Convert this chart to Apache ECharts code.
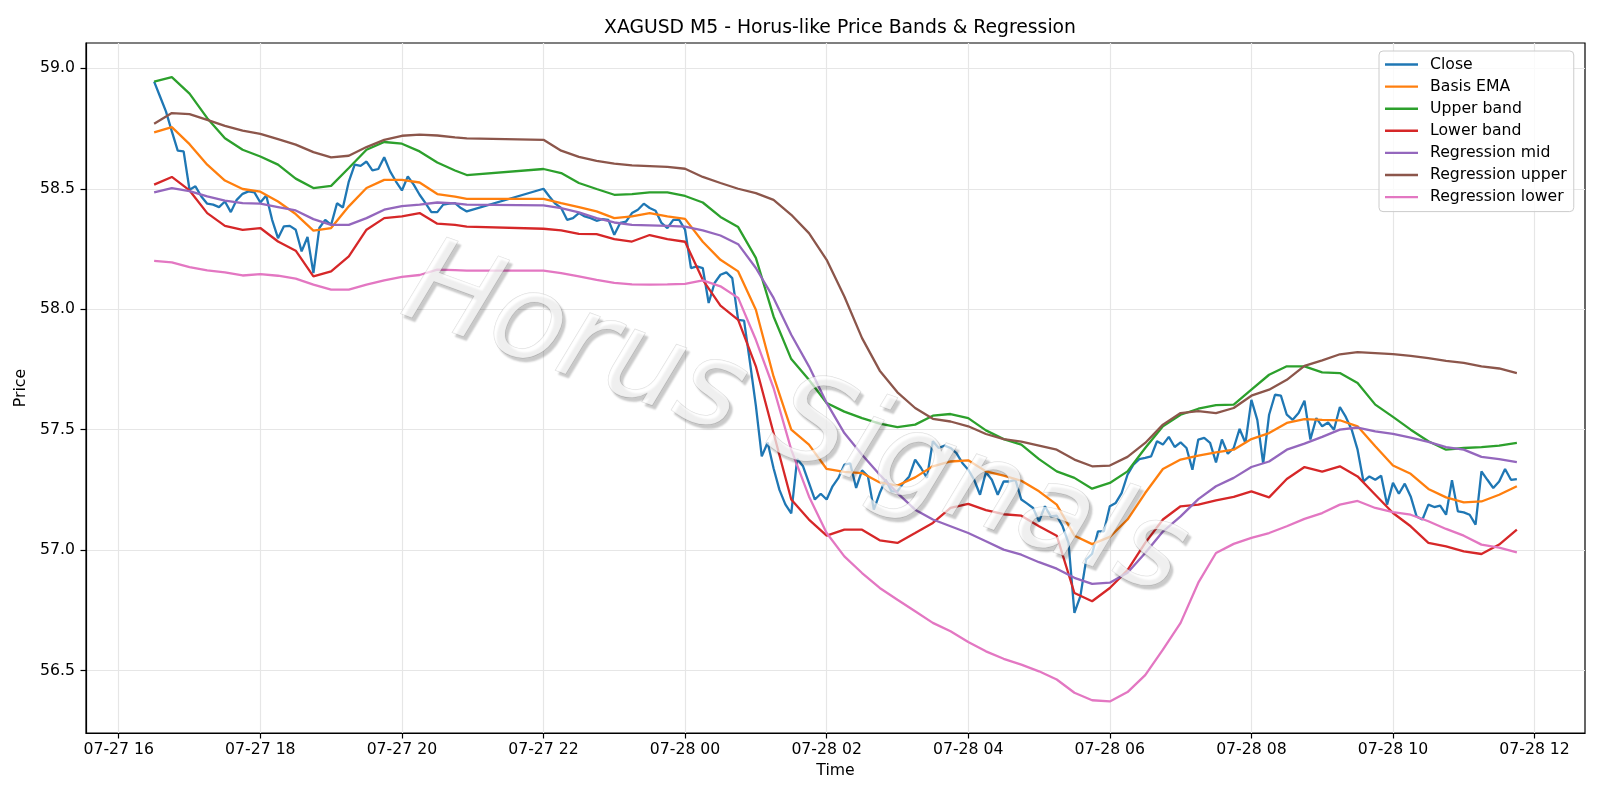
<!DOCTYPE html>
<html>
<head>
<meta charset="utf-8">
<title>XAGUSD M5 - Horus-like Price Bands & Regression</title>
<script src="https://cdn.jsdelivr.net/npm/echarts@6/dist/echarts.min.js"></script>
<style>
  html, body { margin: 0; padding: 0; background: #fff; }
  #chart { width: 1600px; height: 800px; }
</style>
</head>
<body>
<div id="chart"></div>
<script>
// M5 bars: 07-27 16:30 .. 20:55, break, then 07-27 22:00 .. 07-28 11:45
const MIN5 = 5 * 60 * 1000;
const sessions = [
  { start: Date.UTC(2025, 6, 27, 16, 30), bars: 54 },
  { start: Date.UTC(2025, 6, 27, 22, 0), bars: 166 },
];

const close = [
  58.945, 58.883, 58.821, 58.738, 58.658, 58.655, 58.496, 58.51, 58.468, 58.438, 58.434, 58.424,
  58.447, 58.403, 58.454, 58.479, 58.489, 58.485, 58.443, 58.472, 58.371, 58.295, 58.344, 58.346,
  58.33, 58.24, 58.3, 58.15, 58.337, 58.371, 58.35, 58.44, 58.422, 58.53, 58.6, 58.595,
  58.613, 58.576, 58.582, 58.631, 58.572, 58.53, 58.493, 58.551, 58.517, 58.475, 58.44, 58.403,
  58.403, 58.434, 58.438, 58.44, 58.42, 58.406,
  // 22:00
  58.5, 58.468, 58.438, 58.42, 58.371, 58.378, 58.399, 58.385, 58.378, 58.367, 58.374, 58.371,
  58.309, 58.358, 58.364, 58.399, 58.413, 58.438, 58.42, 58.409, 58.358, 58.337, 58.371, 58.371,
  // 00:00
  58.33, 58.171, 58.178, 58.171, 58.026, 58.109, 58.143, 58.153, 58.129, 57.956, 57.953, 57.78,
  57.6, 57.389, 57.447, 57.34, 57.25, 57.19, 57.153, 57.378, 57.348, 57.279, 57.21, 57.234,
  // 02:00
  57.21, 57.265, 57.3, 57.355, 57.36, 57.258, 57.331, 57.306, 57.168, 57.237, 57.292, 57.244,
  57.244, 57.279, 57.306, 57.376, 57.341, 57.3, 57.452, 57.424, 57.434, 57.424, 57.403, 57.362,
  // 04:00
  57.334, 57.292, 57.23, 57.323, 57.292, 57.23, 57.285, 57.285, 57.292, 57.21, 57.193, 57.175,
  57.12, 57.182, 57.14, 57.143, 57.099, 57.03, 56.74, 56.808, 56.961, 56.985, 57.078, 57.078,
  // 06:00
  57.182, 57.196, 57.237, 57.313, 57.355, 57.378, 57.383, 57.389, 57.452, 57.438, 57.47, 57.428,
  57.447, 57.424, 57.334, 57.459, 57.466, 57.445, 57.364, 57.459, 57.4, 57.424, 57.503, 57.445,
  // 08:00
  57.624, 57.541, 57.359, 57.562, 57.645, 57.641, 57.562, 57.541, 57.569, 57.62, 57.459, 57.548,
  57.514, 57.53, 57.5, 57.594, 57.553, 57.5, 57.417, 57.285, 57.306, 57.292, 57.309, 57.189,
  // 10:00
  57.279, 57.234, 57.276, 57.223, 57.14, 57.127, 57.189, 57.179, 57.185, 57.147, 57.29, 57.161,
  57.157, 57.147, 57.106, 57.327, 57.292, 57.258, 57.285, 57.337, 57.292, 57.295,
];

// band / regression lines read every 15 minutes (plus the last bar before the break)
const basisEma = [
  58.734, 58.756, 58.685, 58.6, 58.534, 58.499, 58.488, 58.447, 58.395, 58.326, 58.337, 58.427,
  58.503, 58.537, 58.537, 58.526, 58.478, 58.467, 58.458,
  58.458, 58.44, 58.424, 58.406, 58.378, 58.385, 58.399, 58.385, 58.375, 58.28,
  58.205, 58.157, 57.998, 57.721, 57.5, 57.438, 57.337, 57.325, 57.32, 57.281,
  57.268, 57.302, 57.348, 57.368, 57.373, 57.327, 57.309, 57.288, 57.244, 57.189,
  57.06, 57.025, 57.055, 57.127, 57.237, 57.337, 57.376, 57.392, 57.406, 57.417,
  57.461, 57.486, 57.528, 57.544, 57.541, 57.539, 57.514, 57.431, 57.351, 57.317,
  57.254, 57.219, 57.198, 57.202, 57.23, 57.265,
];
const upperBand = [
  58.945, 58.963, 58.895, 58.793, 58.71, 58.662, 58.634, 58.6, 58.542, 58.503, 58.512, 58.586,
  58.662, 58.694, 58.687, 58.655, 58.609, 58.576, 58.557,
  58.582, 58.565, 58.524, 58.499, 58.475, 58.478, 58.485, 58.485, 58.47, 58.443,
  58.383, 58.341, 58.213, 57.97, 57.793, 57.707, 57.611, 57.575, 57.548, 57.525,
  57.511, 57.521, 57.558, 57.565, 57.548, 57.497, 57.461, 57.438, 57.378, 57.327,
  57.3, 57.255, 57.279, 57.327, 57.424, 57.514, 57.562, 57.587, 57.602, 57.604,
  57.666, 57.728, 57.763, 57.763, 57.738, 57.735, 57.694, 57.604, 57.553, 57.5,
  57.452, 57.417, 57.424, 57.428, 57.434, 57.445,
];
const lowerBand = [
  58.517, 58.549, 58.493, 58.399, 58.346, 58.329, 58.337, 58.281, 58.243, 58.136, 58.157, 58.219,
  58.33, 58.378, 58.385, 58.399, 58.355, 58.35, 58.343,
  58.334, 58.327, 58.313, 58.312, 58.291, 58.281, 58.308, 58.291, 58.28, 58.122,
  58.015, 57.956, 57.763, 57.486, 57.21, 57.127, 57.06, 57.085, 57.085, 57.041,
  57.03, 57.071, 57.113, 57.175, 57.192, 57.166, 57.149, 57.143, 57.099, 57.06,
  56.822, 56.788, 56.843, 56.917, 57.03, 57.127, 57.182, 57.189, 57.207, 57.221,
  57.244, 57.219, 57.295, 57.345, 57.326, 57.348, 57.306, 57.23, 57.154, 57.099,
  57.03, 57.016, 56.995, 56.984, 57.023, 57.085,
];
const regMid = [
  58.485, 58.503, 58.49, 58.468, 58.451, 58.44, 58.438, 58.424, 58.41, 58.374, 58.35, 58.35,
  58.378, 58.413, 58.428, 58.434, 58.443, 58.439, 58.434,
  58.431, 58.42, 58.402, 58.378, 58.36, 58.35, 58.348, 58.346, 58.343, 58.327,
  58.306, 58.27, 58.171, 58.047, 57.894, 57.763, 57.611, 57.486, 57.396, 57.313,
  57.237, 57.168, 57.127, 57.099, 57.071, 57.037, 57.002, 56.981, 56.95, 56.923,
  56.885, 56.86, 56.865, 56.906, 56.988, 57.077, 57.14, 57.212, 57.265, 57.3,
  57.345, 57.368, 57.417, 57.442, 57.47, 57.5, 57.509, 57.493, 57.483, 57.467,
  57.449, 57.428, 57.417, 57.387, 57.378, 57.365,
];
const regUpper = [
  58.77, 58.814, 58.81, 58.786, 58.761, 58.741, 58.728, 58.706, 58.683, 58.652, 58.63, 58.637,
  58.673, 58.703, 58.72, 58.725, 58.721, 58.713, 58.709,
  58.703, 58.658, 58.632, 58.616, 58.604, 58.597, 58.594, 58.591, 58.583, 58.549,
  58.524, 58.5, 58.482, 58.454, 58.392, 58.316, 58.205, 58.053, 57.88, 57.745,
  57.655, 57.59, 57.545, 57.534, 57.514, 57.482, 57.461, 57.45, 57.434, 57.417,
  57.376, 57.348, 57.351, 57.387, 57.445, 57.521, 57.569, 57.577, 57.569, 57.59,
  57.641, 57.666, 57.707, 57.765, 57.788, 57.813, 57.822, 57.818, 57.814, 57.806,
  57.797, 57.786, 57.777, 57.763, 57.754, 57.735,
];
const regLower = [
  58.201, 58.194, 58.175, 58.161, 58.153, 58.14, 58.146, 58.139, 58.127, 58.102, 58.081, 58.081,
  58.102, 58.12, 58.134, 58.142, 58.164, 58.162, 58.16,
  58.16, 58.15, 58.136, 58.122, 58.109, 58.103, 58.102, 58.103, 58.105, 58.12,
  58.095, 58.047, 57.873, 57.673, 57.417, 57.223, 57.071, 56.974, 56.905, 56.843,
  56.794, 56.746, 56.698, 56.663, 56.619, 56.58, 56.549, 56.525, 56.497, 56.463,
  56.408, 56.377, 56.372, 56.411, 56.481, 56.587, 56.698, 56.865, 56.988, 57.026,
  57.051, 57.071, 57.099, 57.13, 57.154, 57.189, 57.204, 57.175, 57.158, 57.147,
  57.12, 57.088, 57.06, 57.023, 57.01, 56.991,
];

const xTickHours = [16, 18, 20, 22, 24, 26, 28, 30, 32, 34, 36];
const yTicks = [56.5, 57.0, 57.5, 58.0, 58.5, 59.0];

const barTimes = [];
sessions.forEach((s) => {
  for (let i = 0; i < s.bars; i++) barTimes.push(s.start + i * MIN5);
});
const n1 = sessions[0].bars;
const bandTimes = barTimes.filter((t, i) =>
  i < n1 ? i % 3 === 0 || i === n1 - 1 : (i - n1) % 3 === 0
);

const xTicks = xTickHours.map((h) => Date.UTC(2025, 6, 27, h));
const pad = (n) => String(n).padStart(2, "0");
const fmtTime = (v) => {
  const d = new Date(v);
  return pad(d.getUTCMonth() + 1) + "-" + pad(d.getUTCDate()) + " " + pad(d.getUTCHours());
};

const font = "DejaVu Sans";
const lw = 2.3;

const lines = [
  { name: "Close", color: "#1f77b4", times: barTimes, values: close },
  { name: "Basis EMA", color: "#ff7f0e", times: bandTimes, values: basisEma },
  { name: "Upper band", color: "#2ca02c", times: bandTimes, values: upperBand },
  { name: "Lower band", color: "#d62728", times: bandTimes, values: lowerBand },
  { name: "Regression mid", color: "#9467bd", times: bandTimes, values: regMid },
  { name: "Regression upper", color: "#8c564b", times: bandTimes, values: regUpper },
  { name: "Regression lower", color: "#e377c2", times: bandTimes, values: regLower },
];

const chart = echarts.init(document.getElementById("chart"));

const option = {
  animation: false,
  backgroundColor: "#ffffff",
  textStyle: { fontFamily: font },
  title: {
    text: "XAGUSD M5 - Horus-like Price Bands & Regression",
    left: 835,
    top: 12,
    textAlign: "center",
    textStyle: { fontFamily: font, fontSize: 18.8, fontWeight: "normal", color: "#000", lineHeight: 22 },
  },
  legend: {
    orient: "vertical",
    left: 1379,
    top: 51,
    padding: [5, 7, 6, 6],
    itemWidth: 33,
    itemHeight: 2.4,
    itemGap: 5.1,
    icon: "rect",
    backgroundColor: "rgba(255,255,255,0.8)",
    borderColor: "#cccccc",
    borderWidth: 1,
    borderRadius: 4,
    textStyle: { fontFamily: font, fontSize: 15.7, color: "#000", lineHeight: 17, padding: [0, 0, 0, 7] },
    data: lines.map((l) => l.name),
  },
  grid: {
    left: 86,
    right: 15,
    top: 43,
    bottom: 67,
    show: true,
    borderColor: "#000",
    borderWidth: 1.2,
    backgroundColor: "transparent",
  },
  xAxis: {
    type: "value",
    min: Date.UTC(2025, 6, 27, 15, 32, 15),
    max: Date.UTC(2025, 6, 28, 12, 42, 45),
    name: "Time",
    nameLocation: "middle",
    nameGap: 28,
    nameTextStyle: { fontFamily: font, fontSize: 15.7, color: "#000" },
    axisLine: { show: true, lineStyle: { color: "#000", width: 1.2 } },
    axisTick: { show: true, length: 5.5, lineStyle: { color: "#000", width: 1.2 }, customValues: xTicks },
    axisLabel: {
      customValues: xTicks,
      formatter: fmtTime,
      margin: 9,
      fontFamily: font,
      fontSize: 15.7,
      color: "#000",
    },
    splitLine: { show: true, lineStyle: { color: "#e6e6e6", width: 1.2 } },
  },
  yAxis: {
    type: "value",
    min: 56.241,
    max: 59.105,
    name: "Price",
    nameLocation: "middle",
    nameGap: 45,
    nameTextStyle: { fontFamily: font, fontSize: 15.7, color: "#000" },
    axisLine: { show: true, lineStyle: { color: "#000", width: 1.2 } },
    axisTick: { show: true, length: 5.5, lineStyle: { color: "#000", width: 1.2 }, customValues: yTicks },
    axisLabel: {
      customValues: yTicks,
      formatter: (v) => v.toFixed(1),
      margin: 11,
      fontFamily: font,
      fontSize: 15.7,
      color: "#000",
    },
    splitLine: { show: true, lineStyle: { color: "#e6e6e6", width: 1.2 } },
  },
  series: lines.map((l) => ({
    name: l.name,
    type: "line",
    symbol: "none",
    showSymbol: false,
    color: l.color,
    lineStyle: { color: l.color, width: lw },
    data: l.values.map((v, i) => [l.times[i], v]),
  })),
  // watermark
  graphic: [
    {
      type: "text",
      x: 794,
      y: 424,
      rotation: -0.35,
      z: 100,
      silent: true,
      style: {
        text: "Horus Signals",
        fontFamily: font,
        fontStyle: "italic",
        fontSize: 120,
        fill: "rgba(255,255,255,0.7)",
        stroke: "rgba(140,140,140,0.3)",
        lineWidth: 1,
        align: "center",
        verticalAlign: "middle",
        textShadowColor: "rgba(0,0,0,0.3)",
        textShadowBlur: 2,
        textShadowOffsetX: 3,
        textShadowOffsetY: 4,
      },
    },
  ],
};

chart.setOption(option);
window.addEventListener("resize", () => chart.resize());
</script>
</body>
</html>
